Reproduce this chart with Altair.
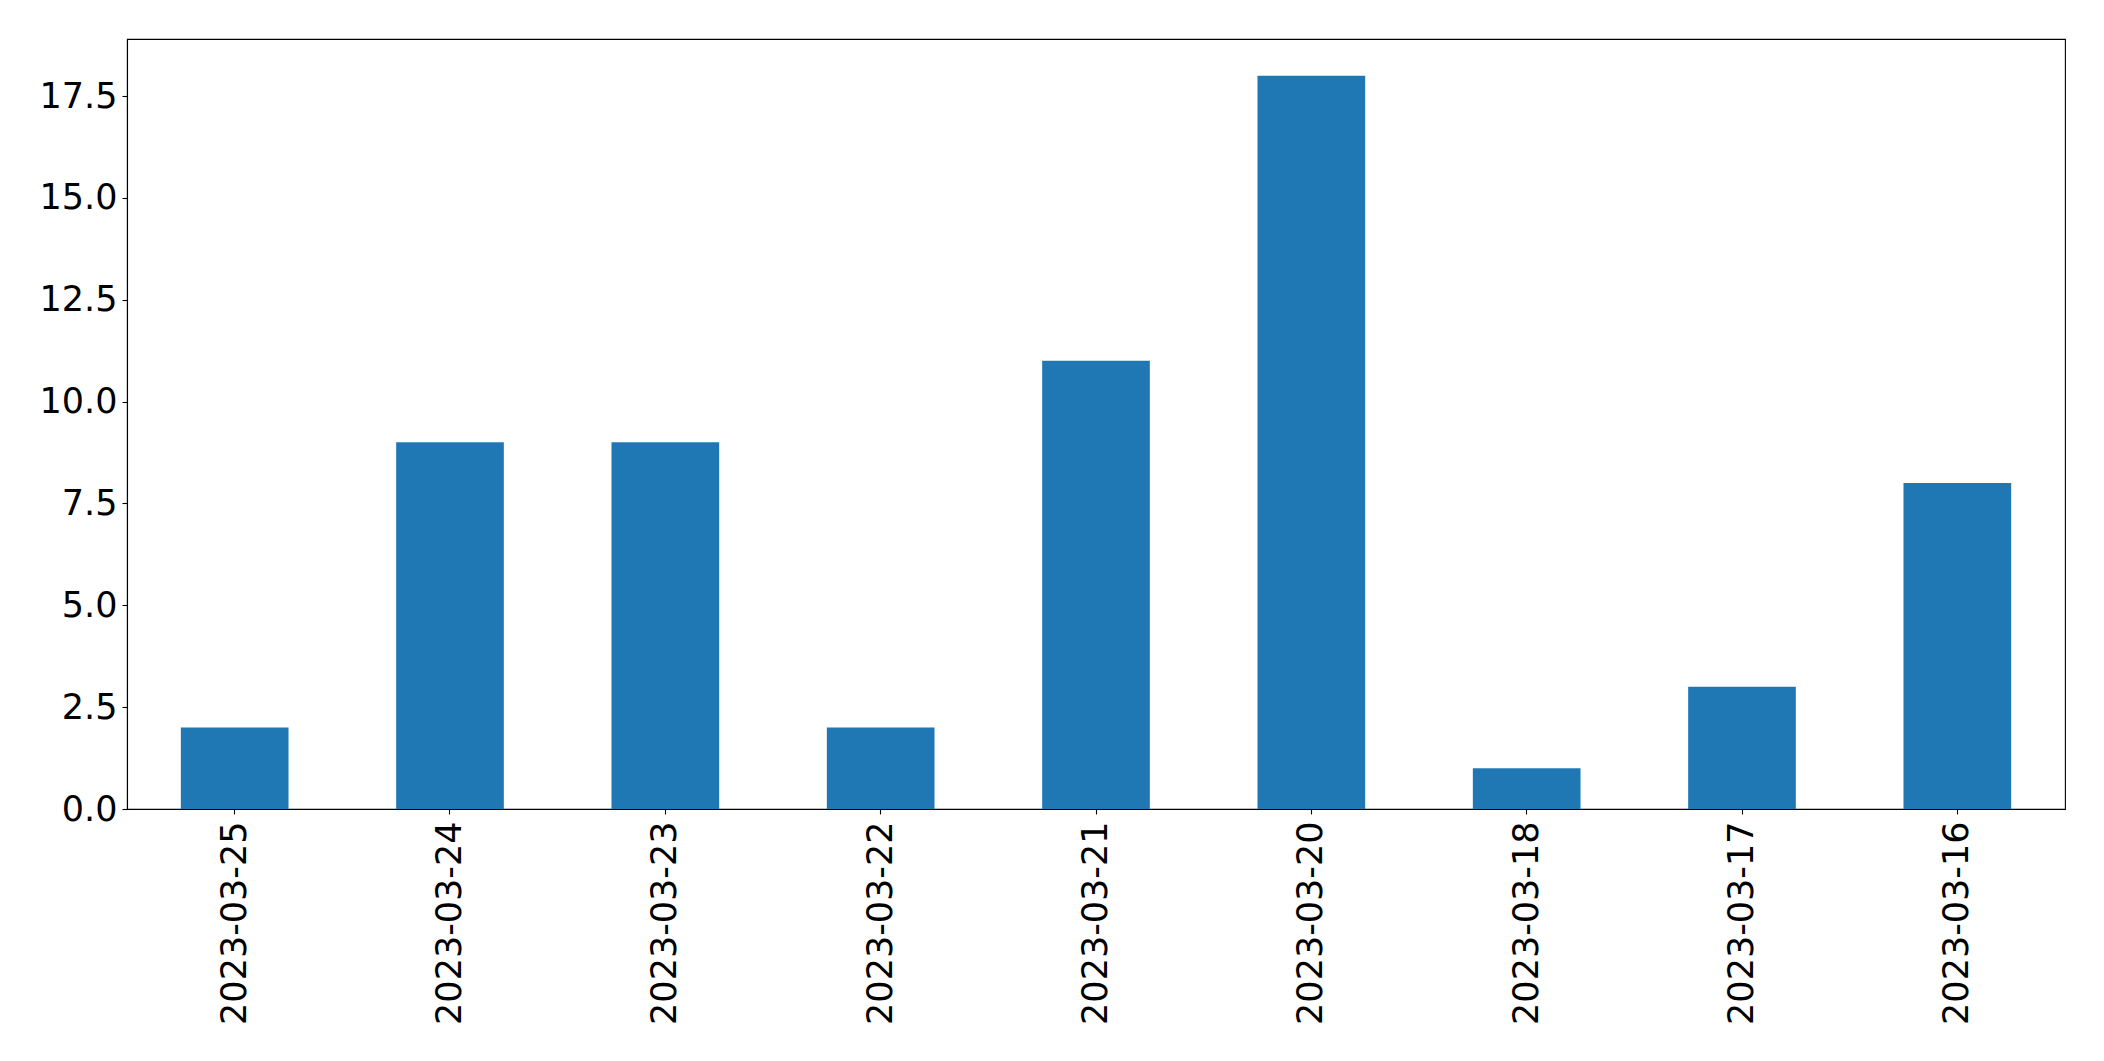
import altair as alt
import pandas as pd

dates = ["2023-03-25", "2023-03-24", "2023-03-23", "2023-03-22", "2023-03-21",
         "2023-03-20", "2023-03-18", "2023-03-17", "2023-03-16"]
counts = [2, 9, 9, 2, 11, 18, 1, 3, 8]
y_ticks = [0.0, 2.5, 5.0, 7.5, 10.0, 12.5, 15.0, 17.5]

df = pd.DataFrame({"date": dates, "count": counts})

FS = 35

chart = alt.Chart(df).mark_bar(color="#1f77b4").encode(
    x=alt.X("date:N", sort=None, title=None,
            scale=alt.Scale(paddingInner=0.5, paddingOuter=0.25),
            axis=alt.Axis(labelAngle=270, labelAlign="right", labelBaseline="middle",
                          labelFontSize=FS, labelFont="DejaVu Sans", labelColor="black",
                          labelLimit=0, labelOverlap=False,
                          tickColor="black", tickSize=5, tickWidth=1.1, labelPadding=7,
                          domainColor="black", domainWidth=1.1, grid=False)),
    y=alt.Y("count:Q", title=None,
            scale=alt.Scale(domain=[0, 18.9], nice=False, zero=True),
            axis=alt.Axis(values=y_ticks, format=".1f",
                          labelFontSize=FS, labelFont="DejaVu Sans", labelColor="black",
                          labelLimit=0, labelOverlap=False,
                          tickColor="black", tickSize=5, tickWidth=1.1, labelPadding=5,
                          domainColor="black", domainWidth=1.1, grid=False)),
).properties(
    width=1938, height=770,
    autosize=alt.AutoSizeParams(type="none"),
    padding={"left": 119, "top": 31, "right": 30, "bottom": 240},
).configure_view(stroke="black", strokeWidth=1.1)

chart.save("out.html", embed_options={"renderer": "svg", "actions": False})
